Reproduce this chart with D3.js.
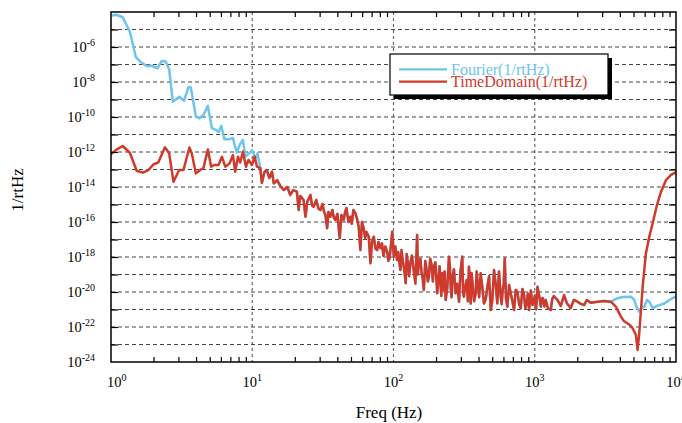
<!DOCTYPE html>
<html>
<head>
<meta charset="utf-8">
<script src="https://cdn.jsdelivr.net/npm/d3@7"></script>
<style>
  body { margin: 0; background: #fff; }
  text { font-family: "Liberation Serif", "Times New Roman", serif; }
</style>
</head>
<body>
<div id="psd-chart"></div>
<script>
// Fourier estimate, 1 - 11 Hz
const fourierLowFreq = [1.01, 1.085, 1.21, 1.36, 1.50, 1.61, 1.79, 1.94, 2.13, 2.29, 2.44, 2.58, 2.74, 3.04, 3.29, 3.53, 3.67, 3.99, 4.23, 4.51, 4.85, 5.18, 5.56, 5.77, 6.03, 6.36, 6.79, 7.30, 7.45, 7.79, 8.13, 8.59, 8.92, 9.52, 9.95, 10.5, 10.9];
const fourierLowAmp = [6.2e-5, 7e-5, 5e-5, 7.5e-6, 2.6e-7, 1.45e-7, 8.2e-8, 8.5e-8, 6.1e-8, 1.6e-7, 1.5e-7, 5.3e-8, 7.5e-10, 1.44e-9, 8.5e-10, 5e-9, 5e-9, 1.05e-10, 8.5e-11, 1.3e-10, 4.3e-10, 2.3e-11, 1.8e-11, 1.35e-11, 3.1e-11, 5.3e-12, 5.3e-12, 6.3e-12, 3.2e-12, 9.1e-13, 2.5e-12, 4.9e-12, 5.4e-13, 8.5e-13, 1.3e-12, 4.4e-13, 8.5e-13];

// Time domain estimate, 1 - 11 Hz
const timeLowFreq = [1.0, 1.10, 1.21, 1.36, 1.52, 1.68, 1.84, 2.0, 2.16, 2.41, 2.58, 2.77, 3.04, 3.26, 3.59, 3.73, 3.99, 4.28, 4.51, 4.85, 5.12, 5.37, 5.77, 6.1, 6.44, 6.9, 7.3, 7.57, 7.92, 8.22, 8.59, 9.02, 9.41, 9.95, 10.4, 10.8];
const timeLowAmp = [7.7e-13, 1.4e-12, 2.2e-12, 9.1e-13, 8.5e-14, 6.6e-14, 9.3e-14, 2e-13, 2.5e-13, 1.86e-12, 8.5e-13, 2e-14, 9.3e-14, 9.3e-14, 1.8e-12, 8.5e-13, 6e-14, 9.3e-14, 1.2e-13, 1.4e-12, 1.45e-13, 1.8e-13, 1.8e-13, 5.4e-13, 1.45e-13, 2.2e-13, 6.7e-13, 7.4e-14, 5.4e-13, 2.5e-13, 1.05e-12, 1.45e-13, 3.5e-13, 1.8e-13, 5.4e-13, 1.45e-13];

// 11 Hz - 3.5 kHz, both estimates lie on top of each other: [freq, amplitude]
const sharedBand = [
    [11.4, 1.2e-13], [11.7, 1.7e-14], [12.2, 7.2e-14], [12.7, 9.3e-14], [13.2, 3.3e-14], [13.8, 7.5e-14],
    [14.2, 1.6e-14], [15.0, 2.5e-14], [15.8, 1.15e-14], [16.7, 6.7e-15], [17.7, 1e-14], [18.6, 3.5e-15],
    [19.5, 6.7e-15], [20.7, 5.4e-15], [21.3, 4.9e-16], [21.9, 3.1e-15], [23.1, 1.8e-15], [23.8, 2e-16],
    [24.5, 1.4e-15], [25.8, 3.5e-15], [26.5, 9e-16], [27.2, 7.5e-16], [28.4, 1.8e-15], [29.4, 6e-16],
    [30.4, 4.9e-16], [31.4, 1.07e-15], [32.2, 4e-16], [33.0, 2.5e-16], [33.9, 4.4e-17], [34.6, 3.7e-16],
    [35.7, 2e-16], [36.9, 4.9e-16], [37.8, 1.8e-16], [38.8, 1.3e-16], [40.1, 2.9e-16], [41.6, 1.2e-17],
    [42.8, 2.5e-16], [44.4, 1.3e-16], [45.4, 3.5e-16], [46.4, 6.3e-16], [48.0, 1e-16], [49.5, 2e-16],
    [50.7, 8e-17], [52.0, 4.9e-16], [53.7, 3.2e-16], [55.2, 1.5e-16], [56.7, 5.4e-17], [58.3, 2.5e-18],
    [59.8, 1e-16], [61.5, 4.4e-17], [63, 1.2e-17], [64.4, 2.7e-17], [66.8, 1.45e-17], [68.7, 4.4e-19],
    [70.5, 8e-18], [72.5, 1.45e-17], [74.5, 3e-18], [76.6, 2.5e-18], [78.3, 7.2e-18], [80.9, 3.2e-18],
    [82.9, 6e-18], [84.9, 1.15e-18], [87.5, 4e-18], [90.2, 2e-18], [92, 6e-19], [93.7, 8.7e-19],
    [96, 5e-18], [98, 2.8e-17], [100.5, 1.05e-18], [103, 4e-18], [106, 6.7e-19], [108, 1.9e-18],
    [110, 5e-19], [112, 1.8e-19], [114, 2.5e-18], [116, 6.7e-19], [119, 2e-19], [122, 3.2e-20],
    [124, 1.5e-18], [126, 5.2e-19], [129, 8e-20], [132, 5.4e-19], [135, 1.2e-18], [139, 1.8e-19],
    [143, 3e-20], [147, 1.8e-17], [149, 1e-19], [151, 4.4e-19], [155, 8e-19], [158, 1.4e-19],
    [161, 6e-20], [164, 1.3e-20], [168, 6e-19], [171, 2.3e-19], [175, 4e-20], [178, 7.5e-20],
    [182, 8e-19], [186, 3.5e-19], [190, 4e-20], [193, 2.8e-19], [198, 5e-19], [204, 8.5e-21],
    [209, 8.2e-20], [212, 3e-19], [215, 3.2e-20], [218, 6e-21], [221, 1.17e-19], [226, 1.3e-20],
    [230, 1.5e-19], [234, 3.5e-21], [240, 1.5e-20], [247, 1.05e-18], [251, 2.5e-19], [254, 2e-20],
    [258, 5e-21], [262, 8.2e-20], [268, 2e-19], [275, 8.5e-21], [282, 3e-20], [291, 2.8e-21],
    [298, 1.5e-19], [307, 1.05e-18], [311, 1e-20], [315, 5.4e-21], [322, 2e-20], [330, 4.9e-20],
    [336, 3e-21], [342, 2.8e-19], [347, 4e-20], [352, 2.2e-21], [357, 1.2e-19], [363, 2.9e-20],
    [372, 3e-21], [382, 8.5e-21], [388, 1.5e-19], [394, 3.7e-20], [404, 5e-21], [414, 1.17e-19],
    [425, 2e-20], [437, 2.2e-21], [450, 4e-21], [462, 2e-20], [475, 8e-20], [488, 9.3e-22],
    [500, 3e-21], [515, 1.8e-19], [529, 3e-20], [543, 2.2e-21], [558, 1.5e-19], [574, 5.4e-21],
    [583, 2e-21], [593, 1.3e-20], [603, 3e-20], [613, 8.5e-19], [626, 4e-21], [640, 1.45e-21],
    [658, 2.5e-20], [676, 8.5e-21], [695, 3e-21], [713, 9.3e-22], [733, 1.3e-20], [754, 1.05e-20],
    [775, 2e-21], [796, 1.2e-21], [818, 1.5e-20], [840, 6.7e-21], [858, 1.2e-21], [877, 2.3e-21],
    [894, 8e-21], [912, 9.3e-22], [938, 1.2e-20], [964, 1.8e-21], [982, 2.5e-21], [1000, 5.9e-21],
    [1022, 1e-21], [1045, 2e-20], [1075, 6e-21], [1104, 1.45e-21], [1120, 4e-21], [1140, 4.5e-21],
    [1170, 1.5e-21], [1197, 3.5e-21], [1237, 1.2e-21], [1298, 9.3e-22], [1330, 4e-21], [1364, 5.9e-21],
    [1449, 3.5e-21], [1528, 1.6e-21], [1614, 6.7e-21], [1686, 2.3e-21], [1799, 1.2e-21], [1890, 3.5e-21],
    [2009, 2.8e-21], [2120, 2.1e-21], [2237, 1.8e-21], [2338, 3.5e-21], [2495, 2.4e-21], [2785, 2.8e-21],
    [3100, 3.1e-21], [3456, 2.8e-21]
];

// above 3.5 kHz the two split
const fourierHighFreq = [3863, 4207, 4797, 5061, 5290, 5495, 5741, 5962, 6227, 6471, 6839, 7330, 8260, 9219, 10000];
const fourierHighAmp = [4.4e-21, 5.2e-21, 5.4e-21, 3.5e-21, 1.2e-21, 7.5e-22, 1.4e-21, 1.45e-21, 3.5e-21, 2.8e-21, 1.2e-21, 1.6e-21, 2.2e-21, 4e-21, 5.4e-21];
const timeHighFreq = [3752, 4074, 4276, 4540, 4718, 4929, 5200, 5347, 5495, 5807, 6124, 6471, 6839, 7330, 7828, 8497, 9219, 10000];
const timeHighAmp = [1.45e-21, 3.9e-22, 2.2e-22, 1.6e-22, 1.3e-22, 8.5e-23, 3.5e-23, 4.9e-24, 4.4e-23, 2e-20, 1.6e-18, 1.45e-17, 8.5e-17, 9.3e-16, 5.2e-15, 2.5e-14, 4.9e-14, 7.2e-14];

const seriesNames = ["Fourier(1/rtHz)", "TimeDomain(1/rtHz)"];
const seriesColors = ["#6ec4ee", "#d13a2b"];
const xLabelExps = [0, 1, 2, 3, 4];
const yLabelExps = [-6, -8, -10, -12, -14, -16, -18, -20, -22, -24];

const zip = (f, a) => f.map((d, i) => [d, a[i]]);
const fourier = zip(fourierLowFreq, fourierLowAmp).concat(sharedBand, zip(fourierHighFreq, fourierHighAmp));
const timeDomain = zip(timeLowFreq, timeLowAmp).concat(sharedBand, zip(timeHighFreq, timeHighAmp));

const margin = { top: 12, right: 6, bottom: 61, left: 111 },
    width = 682 - margin.left - margin.right,
    height = 423 - margin.top - margin.bottom;

const svg = d3.select("#psd-chart")
    .append("svg")
    .attr("width", 682)
    .attr("height", 423)
    .append("g")
    .attr("transform", `translate(${margin.left},${margin.top})`);

const x = d3.scaleLog().domain([1, 1e4]).range([0, width]);
const y = d3.scaleLog().domain([1e-24, 1e-4]).range([height, 0]);

// decade gridlines
const xDecades = [1e1, 1e2, 1e3];
const yDecades = d3.range(-23, -4).map(e => Math.pow(10, e));

svg.append("g").selectAll("line")
    .data(xDecades).join("line")
    .attr("x1", d => x(d)).attr("x2", d => x(d))
    .attr("y1", 0).attr("y2", height)
    .attr("stroke", "#666").attr("stroke-width", 1.2)
    .attr("stroke-dasharray", "3,3");

svg.append("g").selectAll("line")
    .data(yDecades).join("line")
    .attr("x1", 0).attr("x2", width)
    .attr("y1", d => y(d)).attr("y2", d => y(d))
    .attr("stroke", "#444").attr("stroke-width", 1)
    .attr("stroke-dasharray", "4,3");

svg.append("clipPath").attr("id", "plot-clip")
    .append("rect").attr("width", width).attr("height", height);

const line = d3.line()
    .x(d => x(d[0]))
    .y(d => y(d[1]));

svg.append("g").attr("clip-path", "url(#plot-clip)")
    .selectAll("path")
    .data([fourier, timeDomain]).join("path")
    .attr("d", line)
    .attr("fill", "none")
    .attr("stroke", (d, i) => seriesColors[i])
    .attr("stroke-width", 2.5)
    .attr("stroke-linejoin", "round");

// minor ticks on x (inward, top and bottom)
const xMinor = [];
[1, 10, 100, 1000].forEach(b => d3.range(2, 10).forEach(m => xMinor.push(b * m)));

svg.append("g")
    .attr("transform", `translate(0,${height})`)
    .call(d3.axisBottom(x).tickValues(xMinor).tickSize(-5).tickFormat(""))
    .call(g => g.select(".domain").remove());
svg.append("g")
    .call(d3.axisTop(x).tickValues(xMinor).tickSize(-5).tickFormat(""))
    .call(g => g.select(".domain").remove());

// y ticks every decade, left and right
svg.append("g")
    .call(d3.axisLeft(y).tickValues(yDecades).tickSize(-7).tickFormat(""))
    .call(g => g.select(".domain").remove());
svg.append("g")
    .attr("transform", `translate(${width},0)`)
    .call(d3.axisRight(y).tickValues(yDecades).tickSize(-7).tickFormat(""))
    .call(g => g.select(".domain").remove());
svg.selectAll(".tick line").attr("stroke", "#000").attr("stroke-width", 1.2);

// frame
svg.append("rect")
    .attr("width", width).attr("height", height)
    .attr("fill", "none").attr("stroke", "#000").attr("stroke-width", 1.5);

// tick labels as 10^n
function powLabel(sel, e) {
    sel.append("tspan").text("10");
    sel.append("tspan").attr("dy", -6).style("font-size", "10px").text(e);
}

svg.append("g").selectAll("text")
    .data(yLabelExps).join("text")
    .attr("x", -16)
    .attr("y", d => y(Math.pow(10, d)) + 5)
    .attr("text-anchor", "end")
    .style("font-size", "14.5px")
    .each(function(d) { powLabel(d3.select(this), d); });

svg.append("g").selectAll("text")
    .data(xLabelExps).join("text")
    .attr("x", d => d === 0 ? x(1) - 4 : x(Math.pow(10, d)))
    .attr("y", height + 25)
    .attr("text-anchor", d => d === 0 ? "start" : "middle")
    .style("font-size", "14.5px")
    .each(function(d) { powLabel(d3.select(this), d); });

// axis titles
svg.append("text")
    .attr("x", 278)
    .attr("y", height + 56)
    .attr("text-anchor", "middle")
    .style("font-size", "17px")
    .text("Freq (Hz)");

svg.append("text")
    .attr("transform", `translate(${-88},${178}) rotate(-90)`)
    .attr("text-anchor", "middle")
    .style("font-size", "17px")
    .text("1/rtHz");

// legend with drop shadow
const legend = svg.append("g").attr("transform", `translate(${390 - margin.left},${54 - margin.top})`);
legend.append("rect")
    .attr("x", 4).attr("y", 4).attr("width", 218).attr("height", 41)
    .attr("fill", "#000");
legend.append("rect")
    .attr("width", 218).attr("height", 41)
    .attr("fill", "#fff").attr("stroke", "#000").attr("stroke-width", 1.2);

const items = legend.selectAll(".item")
    .data(seriesNames).join("g")
    .attr("class", "item")
    .attr("transform", (d, i) => `translate(0,${15.3 + i * 12.4})`);
items.append("line")
    .attr("x1", 9).attr("x2", 57)
    .attr("stroke", (d, i) => seriesColors[i])
    .attr("stroke-width", 2.3);
items.append("text")
    .attr("x", 61).attr("y", 5.5)
    .style("font-size", "16px")
    .attr("fill", (d, i) => seriesColors[i])
    .text(d => d);
</script>
</body>
</html>
